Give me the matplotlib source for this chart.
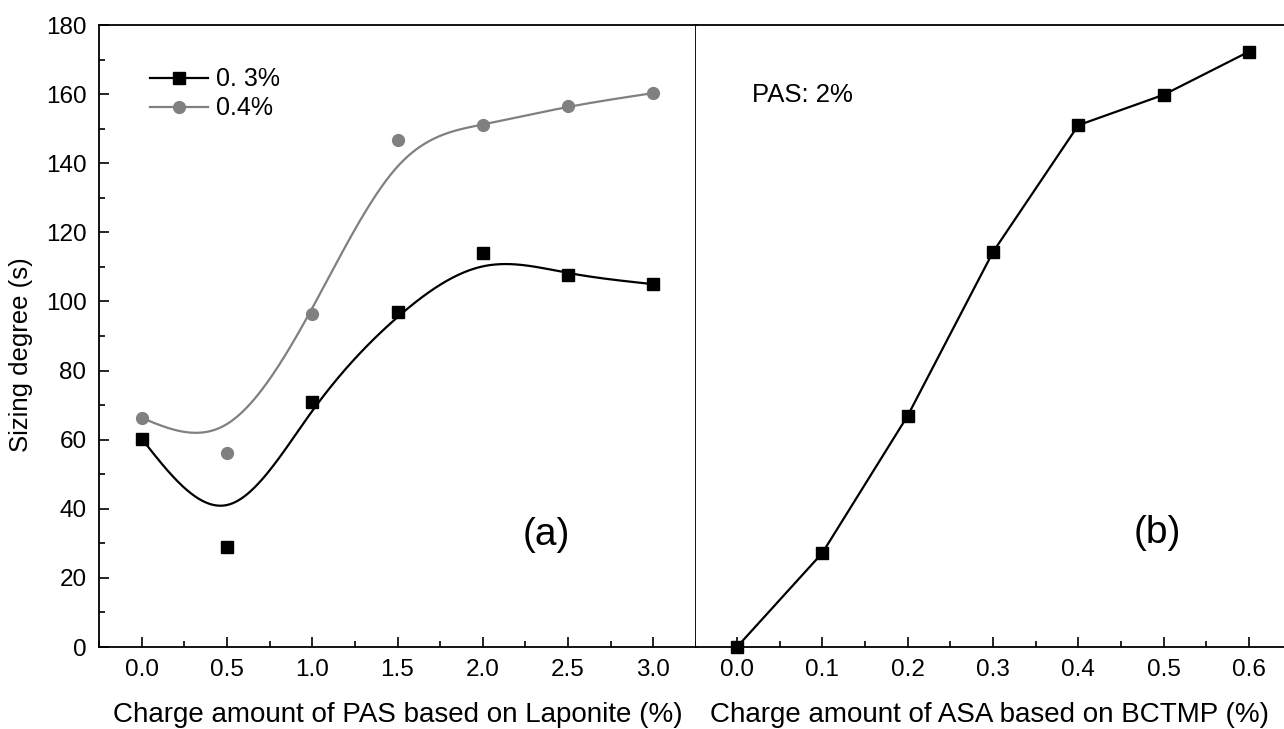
import numpy as np
import matplotlib
matplotlib.use("Agg")
import matplotlib.pyplot as plt
from matplotlib.ticker import MultipleLocator, FormatStrFormatter

plt.rcParams['font.family'] = ['Liberation Sans', 'DejaVu Sans']

# ---- data ----
pas_x = [0.0, 0.5, 1.0, 1.5, 2.0, 2.5, 3.0]
asa03 = [60.3, 28.8, 71.0, 96.9, 114.1, 107.6, 105.0]
asa04 = [66.3, 56.1, 96.4, 146.7, 151.0, 156.6, 160.3]
asa_x = [0.0, 0.1, 0.2, 0.3, 0.4, 0.5, 0.6]
sizing_b = [0.0, 27.2, 66.9, 114.3, 151.0, 159.8, 172.3]
legend_labels = ["0. 3%", "0.4%"]


def bspline(xs, ys, n=60):
    """Uniform cubic B-spline with the data as control points and
    reflected phantom end points, so it starts/ends at the first/last point."""
    P = np.column_stack([xs, ys]).astype(float)
    Q = np.vstack([2 * P[0] - P[1], P, 2 * P[-1] - P[-2]])
    u = np.linspace(0, 1, n)[:, None]
    b0 = (1 - u) ** 3 / 6
    b1 = (3 * u ** 3 - 6 * u ** 2 + 4) / 6
    b2 = (-3 * u ** 3 + 3 * u ** 2 + 3 * u + 1) / 6
    b3 = u ** 3 / 6
    segs = []
    for i in range(len(Q) - 3):
        segs.append(b0 * Q[i] + b1 * Q[i + 1] + b2 * Q[i + 2] + b3 * Q[i + 3])
    out = np.vstack(segs)
    return out[:, 0], out[:, 1]


W, H = 1284, 729
fig = plt.figure(figsize=(W / 100, H / 100), dpi=100)
axL = fig.add_axes([99 / W, (H - 647) / H, (696 - 99) / W, (647 - 25) / H])
axR = fig.add_axes([696 / W, (H - 647) / H, (W - 696) / W, (647 - 25) / H])

gray = '#808080'
tick_fs = 17.5
lab_fs = 20

# left panel
bx, by = bspline(pas_x, asa03)
gx, gy = bspline(pas_x, asa04)
axL.plot(bx, by, color='black', lw=1.6)
axL.plot(gx, gy, color=gray, lw=1.6)
axL.plot(pas_x, asa03, 's', color='black', ms=8.5, ls='none')
axL.plot(pas_x, asa04, 'o', color=gray, ms=8.5, ls='none')
h1, = axL.plot([], [], color='black', lw=1.6, marker='s', ms=8.5)
h2, = axL.plot([], [], color=gray, lw=1.6, marker='o', ms=8.5)
axL.legend([h1, h2], legend_labels, loc='upper left', bbox_to_anchor=(0.068, 0.948),
           frameon=False, fontsize=18, handlelength=2.32, handletextpad=0.32,
           labelspacing=0.2, borderaxespad=0)
axL.set_xlim(-0.25, 3.25)
axL.set_ylim(0, 180)
axL.xaxis.set_major_locator(MultipleLocator(0.5))
axL.xaxis.set_minor_locator(MultipleLocator(0.25))
axL.yaxis.set_major_locator(MultipleLocator(20))
axL.yaxis.set_minor_locator(MultipleLocator(10))
axL.xaxis.set_major_formatter(FormatStrFormatter('%.1f'))
axL.tick_params(which='both', direction='in', labelsize=tick_fs, top=False, right=False)
axL.tick_params(which='major', length=7, width=1.2)
axL.tick_params(which='minor', length=4, width=1.2)
axL.tick_params(axis='x', pad=9)
axL.tick_params(axis='y', pad=9)
axL.set_xlabel('Charge amount of PAS based on Laponite (%)', fontsize=lab_fs, labelpad=15)
axL.set_ylabel('Sizing degree (s)', fontsize=18.5, labelpad=9, y=0.47)
axL.text(2.37, 32.5, '(a)', fontsize=28, ha='center', va='center')
for s in axL.spines.values():
    s.set_linewidth(1.3)

# right panel
axR.plot(asa_x, sizing_b, color='black', lw=1.6, marker='s', ms=8.5, clip_on=False)
axR.set_xlim(-0.048, 0.641)
axR.set_ylim(0, 180)
axR.xaxis.set_major_locator(MultipleLocator(0.1))
axR.xaxis.set_minor_locator(MultipleLocator(0.05))
axR.xaxis.set_major_formatter(FormatStrFormatter('%.1f'))
axR.yaxis.set_visible(False)
axR.spines['left'].set_visible(False)
axR.spines['right'].set_visible(False)
axR.tick_params(which='both', direction='in', labelsize=tick_fs, top=False)
axR.tick_params(which='major', length=7, width=1.2)
axR.tick_params(which='minor', length=4, width=1.2)
axR.tick_params(axis='x', pad=9)
axR.set_xlabel('Charge amount of ASA based on BCTMP (%)', fontsize=lab_fs, labelpad=15)
axR.text(0.018, 159.7, 'PAS: 2%', fontsize=18.5, ha='left', va='center')
axR.text(0.492, 33, '(b)', fontsize=28, ha='center', va='center')
for s in axR.spines.values():
    s.set_linewidth(1.3)

fig.savefig('out.png', dpi=100)
